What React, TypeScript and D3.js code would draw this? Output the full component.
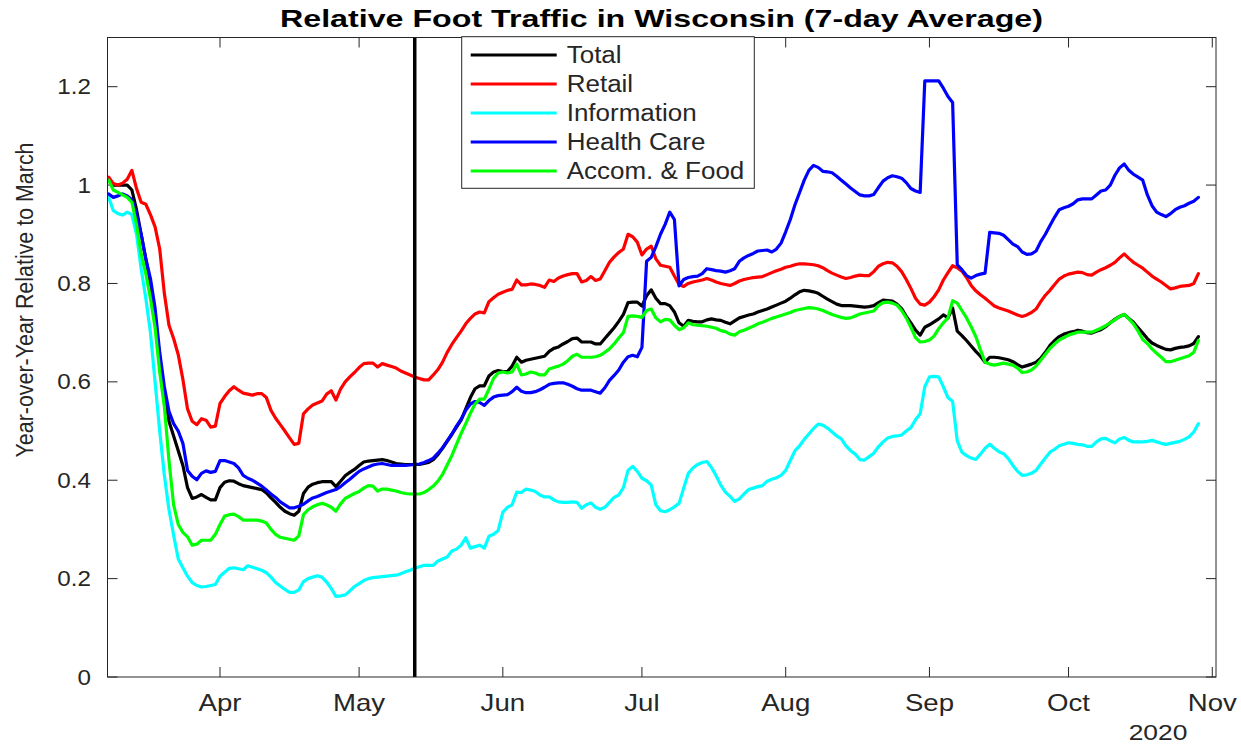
import React from 'react';
import * as d3 from 'd3';

// daily 7-day averages, first value on startDate
const startDate = '2020-03-08';
const stayAtHomeEnd = '2020-05-13';

const total = [
  1.01, 1.0, 1.0, 1.0, 1.0, 0.99, 0.95, 0.9, 0.85, 0.8,
  0.73, 0.65, 0.58, 0.52, 0.49, 0.46, 0.43, 0.385, 0.363, 0.366,
  0.371, 0.365, 0.36, 0.36, 0.385, 0.396, 0.399, 0.398, 0.393, 0.389,
  0.387, 0.385, 0.383, 0.381, 0.374, 0.364, 0.355, 0.345, 0.337, 0.332,
  0.329, 0.337, 0.373, 0.386, 0.392, 0.395, 0.397, 0.397, 0.397, 0.387,
  0.398, 0.409, 0.416, 0.422, 0.43, 0.437, 0.439, 0.44, 0.441, 0.442,
  0.44, 0.437, 0.434, 0.433, 0.432, 0.432, 0.432, 0.432, 0.434, 0.436,
  0.442, 0.452, 0.465, 0.479, 0.493, 0.508, 0.522, 0.545, 0.568, 0.586,
  0.592, 0.592, 0.612, 0.62, 0.623, 0.621, 0.621, 0.632, 0.65, 0.64,
  0.644, 0.646, 0.648, 0.65, 0.652, 0.662, 0.668, 0.671, 0.677, 0.682,
  0.688, 0.689, 0.681, 0.681, 0.681, 0.677, 0.677, 0.688, 0.699, 0.71,
  0.723, 0.737, 0.761, 0.762, 0.762, 0.754, 0.775, 0.787, 0.77, 0.759,
  0.759, 0.755, 0.742, 0.72, 0.713, 0.725, 0.723, 0.722, 0.722, 0.726,
  0.728, 0.726, 0.725, 0.721, 0.718, 0.724, 0.73, 0.733, 0.736, 0.738,
  0.742, 0.745, 0.748, 0.752, 0.756, 0.76, 0.764, 0.77, 0.777, 0.783,
  0.786, 0.785, 0.783, 0.78, 0.774, 0.768, 0.763, 0.758, 0.755, 0.755,
  0.755, 0.754, 0.753, 0.752, 0.753, 0.755, 0.761, 0.766, 0.765, 0.764,
  0.758, 0.749, 0.733, 0.72, 0.705, 0.695, 0.711, 0.716, 0.722, 0.728,
  0.736, 0.73, 0.75, 0.703, 0.694, 0.684, 0.673, 0.662, 0.652, 0.64,
  0.65, 0.65, 0.649, 0.647, 0.645, 0.641, 0.635, 0.63, 0.633, 0.636,
  0.64, 0.648, 0.66, 0.674, 0.684, 0.692, 0.697, 0.7, 0.702, 0.705,
  0.703, 0.7, 0.699, 0.703, 0.706, 0.712, 0.72, 0.727, 0.733, 0.737,
  0.729, 0.721, 0.71, 0.699, 0.688, 0.679, 0.674, 0.67, 0.666, 0.665,
  0.668, 0.67, 0.671, 0.673, 0.678, 0.692,
];

const retail = [
  1.016, 1.003, 1.0, 1.004, 1.012, 1.03, 0.993, 0.965, 0.961, 0.94,
  0.915, 0.87, 0.78, 0.715, 0.688, 0.655, 0.605, 0.545, 0.52, 0.513,
  0.525, 0.522, 0.508, 0.51, 0.556, 0.57, 0.582, 0.59, 0.583, 0.577,
  0.575, 0.573, 0.576, 0.576, 0.568, 0.542, 0.526, 0.513, 0.5, 0.486,
  0.473, 0.475, 0.535, 0.545, 0.553, 0.557, 0.561, 0.575, 0.582, 0.563,
  0.585, 0.6, 0.61, 0.619, 0.629, 0.637, 0.638, 0.638, 0.63, 0.637,
  0.634, 0.631, 0.628, 0.622, 0.618, 0.614, 0.61, 0.607, 0.604, 0.604,
  0.614, 0.625, 0.64, 0.66, 0.676, 0.69, 0.703, 0.718, 0.729, 0.738,
  0.742, 0.74, 0.763, 0.771, 0.778, 0.782, 0.786, 0.788, 0.807, 0.797,
  0.797, 0.799, 0.798, 0.796, 0.792, 0.807, 0.804, 0.811, 0.815, 0.818,
  0.82, 0.82, 0.803, 0.806, 0.814, 0.806, 0.809, 0.826, 0.843, 0.854,
  0.863, 0.87, 0.9, 0.895, 0.884, 0.858, 0.87, 0.876, 0.85, 0.837,
  0.835, 0.833, 0.815, 0.798, 0.794, 0.8, 0.803, 0.805, 0.807, 0.81,
  0.807, 0.803, 0.8, 0.798, 0.796, 0.8, 0.805, 0.808, 0.81, 0.812,
  0.813, 0.814, 0.818, 0.822, 0.826, 0.829, 0.833, 0.835, 0.838, 0.84,
  0.84, 0.839, 0.838, 0.836, 0.832, 0.826, 0.821, 0.817, 0.813, 0.81,
  0.812, 0.815, 0.817, 0.816, 0.816, 0.824, 0.835, 0.84, 0.843, 0.842,
  0.835, 0.824, 0.808, 0.79, 0.77, 0.758, 0.756, 0.762, 0.773, 0.787,
  0.807, 0.822, 0.836, 0.832, 0.825, 0.812, 0.796, 0.785, 0.777, 0.77,
  0.762, 0.754, 0.75, 0.747, 0.744, 0.74, 0.736, 0.733, 0.736, 0.741,
  0.748, 0.763, 0.776, 0.786, 0.798, 0.809, 0.815, 0.819, 0.821, 0.823,
  0.822, 0.818, 0.817, 0.823, 0.828, 0.832, 0.837, 0.843, 0.852, 0.86,
  0.851, 0.843, 0.837, 0.831, 0.823, 0.815, 0.809, 0.803, 0.796, 0.789,
  0.791, 0.794, 0.795, 0.796, 0.8, 0.82,
];

const information = [
  0.975, 0.948, 0.942, 0.939, 0.945, 0.94, 0.9, 0.83, 0.77, 0.7,
  0.6, 0.5, 0.41, 0.34, 0.288, 0.24, 0.222, 0.205, 0.192, 0.186,
  0.183, 0.184, 0.186, 0.188, 0.205, 0.213, 0.221, 0.222, 0.22, 0.218,
  0.226, 0.223, 0.22, 0.217, 0.212, 0.203, 0.192, 0.185, 0.178, 0.172,
  0.172, 0.177, 0.194, 0.2, 0.203, 0.206, 0.203, 0.193, 0.18, 0.164,
  0.165, 0.167, 0.175, 0.184, 0.19, 0.196, 0.2, 0.202, 0.203, 0.204,
  0.205, 0.206, 0.207, 0.21, 0.214, 0.217, 0.221, 0.224, 0.227, 0.227,
  0.227, 0.236, 0.24, 0.244, 0.256, 0.26, 0.268, 0.283, 0.262, 0.265,
  0.268, 0.262, 0.286, 0.29, 0.298, 0.335, 0.345, 0.35, 0.376, 0.375,
  0.382, 0.38, 0.377, 0.37, 0.366, 0.366, 0.36, 0.356, 0.355, 0.355,
  0.356, 0.355, 0.343, 0.35, 0.354, 0.345, 0.341, 0.345, 0.355, 0.365,
  0.37, 0.385, 0.42, 0.428, 0.418, 0.404, 0.399, 0.39, 0.35, 0.338,
  0.336, 0.34, 0.346, 0.353, 0.384, 0.414, 0.425, 0.432, 0.436, 0.438,
  0.426, 0.409, 0.39, 0.376, 0.367, 0.357, 0.362, 0.372, 0.381, 0.384,
  0.387, 0.389, 0.398, 0.402, 0.405, 0.41, 0.42, 0.44, 0.46, 0.47,
  0.483, 0.494, 0.505, 0.514, 0.512, 0.506, 0.498, 0.49, 0.484, 0.47,
  0.46, 0.453, 0.442, 0.441, 0.448, 0.455, 0.468, 0.478, 0.486, 0.489,
  0.49, 0.492, 0.5, 0.507, 0.523, 0.535, 0.59, 0.61, 0.611, 0.61,
  0.59, 0.568, 0.56, 0.48, 0.457, 0.45, 0.445, 0.442, 0.453, 0.465,
  0.473, 0.465, 0.458, 0.454, 0.444, 0.43, 0.418, 0.41, 0.411, 0.414,
  0.42, 0.433, 0.445, 0.457, 0.463, 0.47, 0.473, 0.476, 0.475, 0.473,
  0.472, 0.469, 0.469, 0.478, 0.484, 0.485, 0.48, 0.476, 0.484, 0.487,
  0.481, 0.478, 0.478, 0.478, 0.479, 0.481, 0.478, 0.475, 0.473, 0.475,
  0.477, 0.479, 0.483, 0.488, 0.498, 0.515,
];

const healthCare = [
  0.982, 0.975, 0.978, 0.982, 0.978, 0.97, 0.94, 0.9, 0.85, 0.81,
  0.75, 0.66, 0.59, 0.54, 0.515, 0.5, 0.475, 0.42, 0.408, 0.401,
  0.414, 0.419, 0.416, 0.418, 0.44, 0.44, 0.437, 0.434, 0.425, 0.41,
  0.404, 0.4, 0.394, 0.388, 0.38, 0.372, 0.365, 0.356, 0.35, 0.344,
  0.344, 0.347, 0.351, 0.358, 0.364, 0.367, 0.371, 0.375, 0.378, 0.381,
  0.387, 0.395, 0.402, 0.41, 0.418, 0.423, 0.427, 0.431, 0.433, 0.434,
  0.432, 0.43, 0.43, 0.43, 0.43, 0.431, 0.432, 0.433, 0.436, 0.44,
  0.445, 0.455, 0.466, 0.48, 0.494, 0.51, 0.524, 0.542, 0.555, 0.56,
  0.558, 0.552, 0.562, 0.569, 0.572, 0.573, 0.574, 0.58, 0.589, 0.581,
  0.578, 0.578, 0.58, 0.584, 0.589, 0.595, 0.597, 0.598, 0.598, 0.595,
  0.591, 0.586, 0.583, 0.583, 0.583, 0.58, 0.577, 0.588, 0.603, 0.613,
  0.624, 0.64, 0.651, 0.654, 0.651, 0.67, 0.845, 0.853, 0.875, 0.9,
  0.92, 0.945, 0.93, 0.795, 0.808, 0.812, 0.814, 0.815, 0.82, 0.83,
  0.828, 0.826, 0.825, 0.823, 0.826, 0.83, 0.845, 0.852, 0.857, 0.861,
  0.866, 0.867, 0.868, 0.864, 0.87, 0.882, 0.905, 0.93, 0.96, 0.985,
  1.01, 1.03, 1.04, 1.036, 1.028, 1.027, 1.025, 1.018, 1.01, 1.002,
  0.994, 0.987, 0.98, 0.978, 0.978, 0.981, 0.995, 1.008, 1.015, 1.019,
  1.017, 1.014, 1.005, 0.993, 0.988, 0.985, 1.212, 1.212, 1.212, 1.212,
  1.197, 1.18, 1.168, 0.838, 0.828, 0.816, 0.811, 0.816, 0.819, 0.821,
  0.904, 0.903, 0.902, 0.898, 0.889, 0.88, 0.875, 0.864, 0.859, 0.86,
  0.866, 0.885, 0.9, 0.918, 0.935, 0.95, 0.954, 0.957, 0.962, 0.97,
  0.972, 0.972, 0.972, 0.98, 0.988, 0.99, 1.0, 1.02, 1.035, 1.043,
  1.03, 1.022, 1.016, 1.01, 0.98, 0.958, 0.945, 0.94, 0.936, 0.942,
  0.95, 0.955, 0.958, 0.963, 0.967, 0.975,
];

const accomFood = [
  1.01, 0.99, 0.985, 0.98, 0.975, 0.965, 0.92, 0.86, 0.82, 0.77,
  0.71, 0.62, 0.55, 0.44, 0.35, 0.31, 0.294, 0.285, 0.268, 0.27,
  0.278, 0.278, 0.278, 0.29, 0.31, 0.327, 0.33, 0.331, 0.326, 0.319,
  0.319, 0.319, 0.319, 0.317, 0.313, 0.3, 0.29, 0.284, 0.282, 0.28,
  0.278, 0.287, 0.33, 0.34, 0.346, 0.35, 0.353, 0.35, 0.345, 0.337,
  0.352, 0.363, 0.368, 0.373, 0.377, 0.384, 0.389, 0.388, 0.378, 0.382,
  0.382, 0.38, 0.378, 0.375, 0.373, 0.372, 0.372, 0.372, 0.375, 0.381,
  0.388, 0.398, 0.412, 0.431, 0.45, 0.473, 0.495, 0.515, 0.536, 0.555,
  0.565, 0.565, 0.585, 0.607, 0.618, 0.62, 0.618, 0.62, 0.636, 0.614,
  0.616, 0.62, 0.618, 0.614, 0.614, 0.626, 0.629, 0.632, 0.636, 0.643,
  0.652, 0.656, 0.65, 0.65, 0.65, 0.651, 0.654, 0.66, 0.667, 0.677,
  0.689, 0.7, 0.733, 0.734, 0.733, 0.731, 0.745, 0.748, 0.73, 0.722,
  0.727, 0.726, 0.715, 0.706, 0.71, 0.72, 0.716, 0.715, 0.714, 0.713,
  0.711, 0.709, 0.704, 0.702, 0.697, 0.695, 0.702, 0.705, 0.709, 0.713,
  0.718, 0.721, 0.725, 0.729, 0.732, 0.735, 0.738, 0.741, 0.745, 0.747,
  0.749, 0.751, 0.75, 0.748, 0.745, 0.741, 0.737, 0.734, 0.731, 0.729,
  0.73, 0.734, 0.738, 0.74, 0.742, 0.744, 0.755, 0.761, 0.762, 0.76,
  0.756, 0.745, 0.73, 0.711, 0.69, 0.681, 0.682, 0.685, 0.693, 0.708,
  0.72, 0.73, 0.765, 0.76, 0.745, 0.73, 0.712, 0.692, 0.665, 0.64,
  0.636, 0.634, 0.636, 0.638, 0.636, 0.634, 0.628, 0.619, 0.62, 0.624,
  0.632, 0.644, 0.656, 0.668, 0.677, 0.685, 0.69, 0.695, 0.698, 0.701,
  0.701, 0.701, 0.701, 0.705, 0.709, 0.714, 0.72, 0.726, 0.733, 0.737,
  0.728, 0.718, 0.703, 0.686, 0.678, 0.667, 0.658, 0.65, 0.641, 0.641,
  0.644, 0.647, 0.65, 0.653, 0.66, 0.684,
];

const seriesNames = ['Total', 'Retail', 'Information', 'Health Care', 'Accom. & Food'];
const seriesValues = [total, retail, information, healthCare, accomFood];
const seriesColors = ['#000000', '#ff0000', '#00ffff', '#0000ff', '#00ff00'];

const yTicks = [0, 0.2, 0.4, 0.6, 0.8, 1, 1.2];
const yTickLabels = ['0', '0.2', '0.4', '0.6', '0.8', '1', '1.2'];
const xTickLabels = ['Apr', 'May', 'Jun', 'Jul', 'Aug', 'Sep', 'Oct', 'Nov'];
const yearLabel = '2020';

const title = 'Relative Foot Traffic in Wisconsin (7-day Average)';
const yTitle = 'Year-over-Year Relative to March';

const W = 1241;
const H = 747;
const box = { left: 107.5, right: 1216, top: 37.5, bottom: 677 };
const DAY = 864e5;
const axisColor = '#262626';
const font = "'Liberation Sans', Arial, Helvetica, sans-serif";

// MATLAB export looks stretched sideways, so text gets a horizontal scale
const Txt = ({ x, y, sx = 1, size, anchor = 'start', weight = 'normal', fill = axisColor, rotate = 0, len, children }: any) => (
  <text
    transform={`translate(${x},${y}) scale(${sx},1)${rotate ? ` rotate(${rotate})` : ''}`}
    fontFamily={font}
    fontSize={size}
    fontWeight={weight}
    textAnchor={anchor}
    fill={fill}
    textLength={len}
    lengthAdjust={len ? 'spacingAndGlyphs' : undefined}
  >
    {children}
  </text>
);

export default function App() {
  const t0 = Date.parse(startDate + 'T00:00:00Z');
  const x = d3
    .scaleUtc()
    .domain([new Date(t0 - 0.26 * DAY), new Date(Date.UTC(2020, 10, 1) + 0.8 * DAY)])
    .range([box.left, box.right]);
  const y = d3.scaleLinear().domain([0, 1.3]).range([box.bottom, box.top]);

  const monthTicks = d3.utcMonth.range(new Date(Date.UTC(2020, 3, 1)), new Date(Date.UTC(2020, 10, 2)));
  const line = d3
    .line<number>()
    .x((_, i) => x(new Date(t0 + i * DAY)))
    .y((v) => y(v));
  const cut = x(new Date(stayAtHomeEnd + 'T00:00:00Z'));

  const leg = { x: 461.7, y: 36.7, w: 292.6, h: 151.6 };

  return (
    <div style={{ position: 'absolute', left: 0, top: 0 }}>
      <svg width={W} height={H} style={{ display: 'block', background: '#fff' }}>
        <defs>
          <clipPath id="plot">
            <rect x={box.left} y={box.top} width={box.right - box.left} height={box.bottom - box.top} />
          </clipPath>
        </defs>
        <rect width={W} height={H} fill="#fff" />

        {/* ticks, inward on all four sides */}
        <g stroke={axisColor} strokeWidth={1}>
          {yTicks.map((t) => (
            <g key={'y' + t}>
              <line x1={box.left} x2={box.left + 10} y1={y(t)} y2={y(t)} />
              <line x1={box.right} x2={box.right - 10} y1={y(t)} y2={y(t)} />
            </g>
          ))}
          {monthTicks.map((d, i) => (
            <g key={'x' + i}>
              <line x1={x(d)} x2={x(d)} y1={box.bottom} y2={box.bottom - 10} />
              <line x1={x(d)} x2={x(d)} y1={box.top} y2={box.top + 10} />
            </g>
          ))}
        </g>

        <g clipPath="url(#plot)" fill="none" strokeWidth={3.2} strokeLinejoin="round" strokeLinecap="round">
          {seriesValues.map((vals, i) => (
            <path key={seriesNames[i]} d={line(vals) || ''} stroke={seriesColors[i]} />
          ))}
          <line x1={cut} x2={cut} y1={box.top} y2={box.bottom} stroke="#000" strokeWidth={3.5} />
        </g>

        <rect
          x={box.left}
          y={box.top}
          width={box.right - box.left}
          height={box.bottom - box.top}
          fill="none"
          stroke={axisColor}
          strokeWidth={1}
        />

        {yTicks.map((t, i) => (
          <Txt key={'yl' + t} x={91} y={y(t) + 7.5} sx={1.1} size={22} anchor="end">
            {yTickLabels[i]}
          </Txt>
        ))}
        {monthTicks.map((d, i) => (
          <Txt key={'xl' + i} x={x(d)} y={711} sx={1.2} size={23} anchor="middle">
            {xTickLabels[i]}
          </Txt>
        ))}
        <Txt x={1158} y={740} sx={1.2} size={22} anchor="middle">
          {yearLabel}
        </Txt>

        <Txt x={32.5} y={300} sx={1.05} size={23} anchor="middle" rotate={-90} len={315}>
          {yTitle}
        </Txt>
        <Txt x={280} y={27} size={24} weight="bold" fill="#000" len={763}>
          {title}
        </Txt>

        <g>
          <rect x={leg.x} y={leg.y} width={leg.w} height={leg.h} fill="#fff" stroke={axisColor} strokeWidth={1} />
          {seriesNames.map((name, i) => {
            const ry = 55 + i * 29;
            return (
              <g key={'lg' + name}>
                <line x1={470.7} x2={556.7} y1={ry} y2={ry} stroke={seriesColors[i]} strokeWidth={3.2} />
                <Txt x={566.7} y={ry + 8} sx={1.13} size={23}>
                  {name}
                </Txt>
              </g>
            );
          })}
        </g>
      </svg>
    </div>
  );
}
